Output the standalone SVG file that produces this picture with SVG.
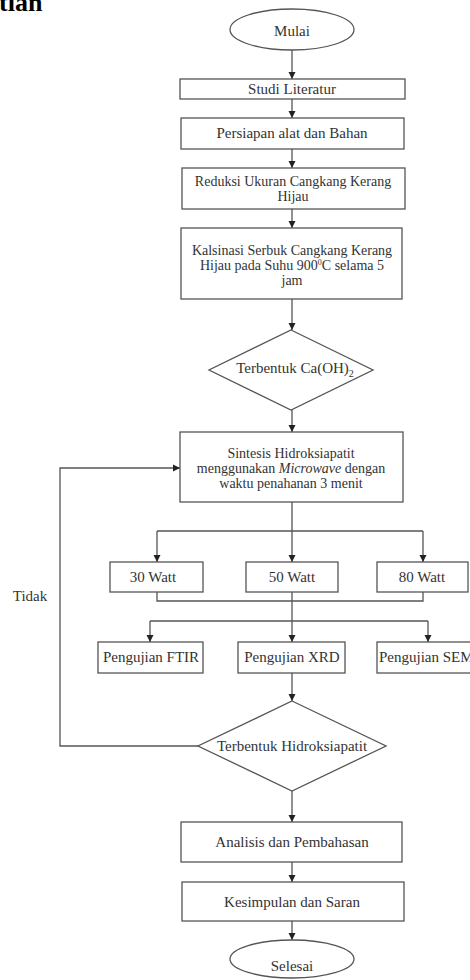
<svg xmlns="http://www.w3.org/2000/svg" width="470" height="980" viewBox="0 0 470 980">
<style>
.s{fill:#fff;stroke:#555;stroke-width:1.3}
.t{font-family:"Liberation Serif","Times New Roman",serif;font-size:15px;fill:#333;text-anchor:middle}
.m{font-size:14px}
.c{fill:none;stroke:#555;stroke-width:1.3}
.h{font-family:"Liberation Serif","Times New Roman",serif;font-size:26px;font-weight:bold;fill:#000}
</style>
<defs>
<marker id="a" markerUnits="userSpaceOnUse" markerWidth="8" markerHeight="8" refX="7" refY="4" orient="auto" viewBox="0 0 8 8">
<path d="M0,0.5 L7,4 L0,7.5 z" fill="#222"/>
</marker>
</defs>
<rect width="470" height="980" fill="#fff"/>
<text class="h" x="-1" y="11">tian</text>

<g id="connectors">
<path class="c" d="M292,50 V79" marker-end="url(#a)"/>
<path class="c" d="M292,99 V118" marker-end="url(#a)"/>
<path class="c" d="M292,149 V168" marker-end="url(#a)"/>
<path class="c" d="M292,209 V228" marker-end="url(#a)"/>
<path class="c" d="M292,299 V330" marker-end="url(#a)"/>
<path class="c" d="M292,410 V432" marker-end="url(#a)"/>
<path class="c" d="M292,502 V531 M157,531 H423"/>
<path class="c" d="M157,531 V562" marker-end="url(#a)"/>
<path class="c" d="M292,531 V562" marker-end="url(#a)"/>
<path class="c" d="M423,531 V562" marker-end="url(#a)"/>
<path class="c" d="M157,592 V601 H423 V592 M150,621 H428"/>
<path class="c" d="M292,592 V642" marker-end="url(#a)"/>
<path class="c" d="M150,621 V642" marker-end="url(#a)"/>
<path class="c" d="M428,621 V642" marker-end="url(#a)"/>
<path class="c" d="M292,673 V701" marker-end="url(#a)"/>
<path class="c" d="M292,791 V822" marker-end="url(#a)"/>
<path class="c" d="M292,862 V882" marker-end="url(#a)"/>
<path class="c" d="M292,921 V940" marker-end="url(#a)"/>
<path class="c" d="M198,746 H60 V468 H180" marker-end="url(#a)"/>
<text class="t" x="30" y="601">Tidak</text>
</g>

<g id="mulai"><ellipse class="s" cx="292" cy="29.5" rx="62" ry="20.5"/><text class="t" x="292" y="36">Mulai</text></g>
<g id="studi"><rect class="s" x="180" y="79" width="225" height="20"/><text class="t" x="292" y="94">Studi Literatur</text></g>
<g id="persiapan"><rect class="s" x="181" y="118" width="223" height="31"/><text class="t" x="292" y="138">Persiapan alat dan Bahan</text></g>
<g id="reduksi"><rect class="s" x="182" y="168" width="223" height="41"/><text class="t m" x="293" y="186">Reduksi Ukuran Cangkang Kerang</text><text class="t m" x="293" y="201">Hijau</text></g>
<g id="kalsinasi"><rect class="s" x="181" y="228" width="221" height="71"/><text class="t m" x="292" y="255">Kalsinasi Serbuk Cangkang Kerang</text><text class="t m" x="292" y="270">Hijau pada Suhu 900<tspan font-size="8" dy="-5">0</tspan><tspan dy="5">C selama 5</tspan></text><text class="t m" x="292" y="285">jam</text></g>
<g id="caoh"><path class="s" d="M291,330 L373,370 L291,410 L209,370 z"/><text class="t" x="295" y="373">Terbentuk Ca(OH)<tspan font-size="10" dy="4">2</tspan></text></g>
<g id="sintesis"><rect class="s" x="180" y="432" width="223" height="70"/><text class="t m" x="291" y="458">Sintesis Hidroksiapatit</text><text class="t m" x="291" y="473">menggunakan <tspan font-style="italic">Microwave</tspan> dengan</text><text class="t m" x="291" y="488">waktu penahanan 3 menit</text></g>
<g id="w30"><rect class="s" x="110" y="562" width="93" height="30"/><text class="t" x="153" y="582">30 Watt</text></g>
<g id="w50"><rect class="s" x="246" y="562" width="92" height="30"/><text class="t" x="292" y="582">50 Watt</text></g>
<g id="w80"><rect class="s" x="377" y="562" width="91" height="30"/><text class="t" x="422" y="582">80 Watt</text></g>
<g id="ftir"><rect class="s" x="98" y="642" width="105" height="31"/><text class="t" x="151" y="662">Pengujian FTIR</text></g>
<g id="xrd"><rect class="s" x="238" y="642" width="107" height="31"/><text class="t" x="292" y="662">Pengujian XRD</text></g>
<g id="sem"><rect class="s" x="377" y="642" width="110" height="31"/><text class="t" x="379" y="662" style="text-anchor:start">Pengujian SEM</text></g>
<g id="hidroksiapatit"><path class="s" d="M292,701 L386,746 L292,791 L198,746 z"/><text class="t" x="292" y="751">Terbentuk Hidroksiapatit</text></g>
<g id="analisis"><rect class="s" x="181" y="822" width="221" height="40"/><text class="t" x="292" y="847">Analisis dan Pembahasan</text></g>
<g id="kesimpulan"><rect class="s" x="182" y="882" width="222" height="39"/><text class="t" x="292" y="907">Kesimpulan dan Saran</text></g>
<g id="selesai"><ellipse class="s" cx="292" cy="959" rx="62" ry="19"/><text class="t" x="292" y="971">Selesai</text></g>
</svg>
